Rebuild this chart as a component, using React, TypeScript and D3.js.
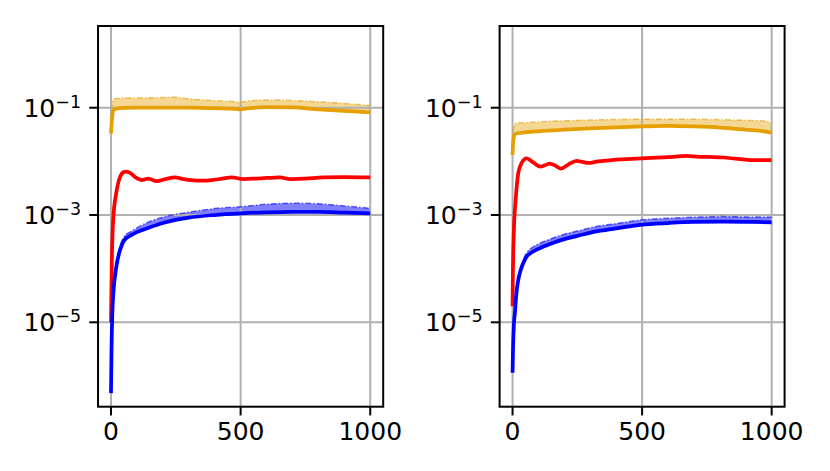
import React from "react";
import * as d3 from "d3";

// ---- data (values given as log10 exponents) ----
const xTicks = [0, 500, 1000];
const yTickExps = [-5, -3, -1];
const xDomain = [-50, 1050];
const yExpDomain = [-6.573, 0.523];

// Left panel
const leftOrangeX = [0, 5, 10, 20, 50, 100, 200, 250, 300, 400, 480, 500, 520, 600, 700, 800, 900, 1000];
const leftOrangeLow = [-1.477, -1.15, -1.05, -1.02, -1.005, -1.0, -1.0, -1.0, -1.0, -1.01, -1.02, -1.03, -1.015, -0.99, -0.995, -1.03, -1.06, -1.086];
const leftOrangeHigh = [-1.477, -0.9, -0.85, -0.83, -0.82, -0.82, -0.81, -0.805, -0.835, -0.87, -0.89, -0.9, -0.88, -0.855, -0.865, -0.89, -0.92, -0.96];

const leftRedX = [0, 1, 3, 9, 20, 35, 50, 60, 75, 95, 118, 144, 176, 210, 247, 280, 311, 350, 389, 430, 466, 511, 560, 600, 652, 691, 750, 819, 900, 1000];
const leftRedVal = [-5, -4.58, -3.9, -3.05, -2.6, -2.29, -2.2, -2.19, -2.22, -2.3, -2.35, -2.32, -2.37, -2.33, -2.3, -2.33, -2.35, -2.36, -2.35, -2.32, -2.3, -2.33, -2.32, -2.31, -2.3, -2.33, -2.32, -2.3, -2.295, -2.3];

const leftBlueX = [0, 2, 5, 10, 20, 35, 50, 80, 100, 150, 200, 300, 400, 500, 600, 700, 800, 900, 1000];
const leftBlueLow = [-6.32, -5.5, -4.85, -4.4, -3.98, -3.65, -3.48, -3.37, -3.32, -3.23, -3.15, -3.05, -3.0, -2.97, -2.95, -2.94, -2.94, -2.955, -2.97];
const leftBlueHigh = [-6.32, -5.5, -4.85, -4.38, -3.93, -3.58, -3.41, -3.3, -3.24, -3.12, -3.04, -2.95, -2.88, -2.845, -2.8, -2.78, -2.79, -2.83, -2.875];

// Right panel
const rightOrangeX = [0, 3, 8, 15, 50, 100, 200, 300, 400, 500, 600, 700, 800, 900, 970, 1000];
const rightOrangeLow = [-1.88, -1.6, -1.5, -1.48, -1.46, -1.44, -1.41, -1.385, -1.365, -1.35, -1.34, -1.35, -1.37, -1.41, -1.44, -1.466];
const rightOrangeHigh = [-1.88, -1.4, -1.31, -1.29, -1.28, -1.265, -1.245, -1.23, -1.22, -1.215, -1.215, -1.215, -1.225, -1.235, -1.25, -1.29];

const rightRedX = [0, 1, 5, 12, 22, 35, 54, 80, 108, 144, 165, 187, 215, 247, 270, 292, 330, 382, 440, 498, 556, 620, 672, 720, 780, 812, 860, 916, 1000];
const rightRedVal = [-4.7, -4.2, -3.3, -2.72, -2.22, -2.03, -1.943, -2.02, -2.1, -2.04, -2.08, -2.135, -2.06, -1.99, -2.01, -2.03, -2.0, -1.975, -1.96, -1.945, -1.93, -1.915, -1.9, -1.915, -1.92, -1.928, -1.95, -1.975, -1.975];

const rightBlueX = [0, 2, 5, 9, 15, 22, 30, 41, 55, 67, 100, 150, 200, 250, 318, 400, 500, 600, 700, 812, 900, 1000];
const rightBlueLow = [-5.94, -5.45, -5.05, -4.83, -4.45, -4.21, -4.05, -3.9, -3.77, -3.72, -3.63, -3.53, -3.45, -3.39, -3.31, -3.25, -3.18, -3.15, -3.13, -3.125, -3.128, -3.136];
const rightBlueHigh = [-5.94, -5.45, -5.05, -4.8, -4.4, -4.15, -4.0, -3.84, -3.7, -3.64, -3.54, -3.44, -3.36, -3.3, -3.22, -3.16, -3.09, -3.06, -3.04, -3.03, -3.035, -3.04];

const ORANGE = "#e69f00";
const RED = "#ff0000";
const BLUE = "#0000ff";

type Band = { x: number[]; low: number[]; high: number[]; color: string; alpha: number };
type Line = { x: number[]; v: number[]; color: string };

const panels = [
  {
    left: 98.04,
    right: 383.2,
    bands: [
      { x: leftOrangeX, low: leftOrangeLow, high: leftOrangeHigh, color: ORANGE, alpha: 0.42 },
      { x: leftBlueX, low: leftBlueLow, high: leftBlueHigh, color: BLUE, alpha: 0.5 },
    ] as Band[],
    lines: [
      { x: leftOrangeX, v: leftOrangeLow, color: ORANGE },
      { x: leftRedX, v: leftRedVal, color: RED },
      { x: leftBlueX, v: leftBlueLow, color: BLUE },
    ] as Line[],
  },
  {
    left: 499.6,
    right: 784.6,
    bands: [
      { x: rightOrangeX, low: rightOrangeLow, high: rightOrangeHigh, color: ORANGE, alpha: 0.42 },
      { x: rightBlueX, low: rightBlueLow, high: rightBlueHigh, color: BLUE, alpha: 0.5 },
    ] as Band[],
    lines: [
      { x: rightOrangeX, v: rightOrangeLow, color: ORANGE },
      { x: rightRedX, v: rightRedVal, color: RED },
      { x: rightBlueX, v: rightBlueLow, color: BLUE },
    ] as Line[],
  },
];

const TOP = 26;
const BOTTOM = 406.7;
const FONT = "DejaVu Sans, sans-serif";

function Panel({ p, idx }: { p: (typeof panels)[number]; idx: number }) {
  const xs = d3.scaleLinear().domain(xDomain).range([p.left, p.right]);
  const ys = d3
    .scaleLog()
    .domain([Math.pow(10, yExpDomain[0]), Math.pow(10, yExpDomain[1])])
    .range([BOTTOM, TOP]);
  const clipId = `clip${idx}`;

  const areaPath = (b: Band) => {
    const pts = b.x.map((x, i) => ({ x, lo: Math.pow(10, b.low[i]), hi: Math.pow(10, b.high[i]) }));
    return (
      d3
        .area<{ x: number; lo: number; hi: number }>()
        .x((d) => xs(d.x))
        .y0((d) => ys(d.lo))
        .y1((d) => ys(d.hi))
        .curve(d3.curveMonotoneX)(pts) || ""
    );
  };
  const linePath = (x: number[], v: number[]) => {
    const pts = x.map((xx, i) => [xx, Math.pow(10, v[i])] as [number, number]);
    return (
      d3
        .line<[number, number]>()
        .x((d) => xs(d[0]))
        .y((d) => ys(d[1]))
        .curve(d3.curveMonotoneX)(pts) || ""
    );
  };

  return (
    <g>
      <defs>
        <clipPath id={clipId}>
          <rect x={p.left} y={TOP} width={p.right - p.left} height={BOTTOM - TOP} />
        </clipPath>
      </defs>
      <g clipPath={`url(#${clipId})`}>
        {p.bands.map((b, i) => (
          <path key={"b" + i} d={areaPath(b)} fill={b.color} fillOpacity={b.alpha} stroke="none" />
        ))}
        {xTicks.map((t) => (
          <line key={"gx" + t} x1={xs(t)} x2={xs(t)} y1={TOP} y2={BOTTOM} stroke="#b0b0b0" strokeWidth={2} />
        ))}
        {yTickExps.map((e) => (
          <line
            key={"gy" + e}
            x1={p.left}
            x2={p.right}
            y1={ys(Math.pow(10, e))}
            y2={ys(Math.pow(10, e))}
            stroke="#b0b0b0"
            strokeWidth={2}
          />
        ))}
        {p.bands.map((b, i) => (
          <path
            key={"be" + i}
            d={linePath(b.x, b.high)}
            fill="none"
            stroke={b.color}
            strokeOpacity={0.6}
            strokeWidth={1.5}
            strokeDasharray="6 2 1.5 2"
          />
        ))}
        {p.lines.map((l, i) => (
          <path
            key={"l" + i}
            d={linePath(l.x, l.v)}
            fill="none"
            stroke={l.color}
            strokeWidth={3.75}
            strokeLinejoin="round"
          />
        ))}
      </g>
      <rect
        x={p.left}
        y={TOP}
        width={p.right - p.left}
        height={BOTTOM - TOP}
        fill="none"
        stroke="#000"
        strokeWidth={2}
      />
      {xTicks.map((t) => (
        <g key={"tx" + t}>
          <line x1={xs(t)} x2={xs(t)} y1={BOTTOM} y2={BOTTOM + 8.75} stroke="#000" strokeWidth={2} />
          <text x={xs(t)} y={BOTTOM + 33.3} textAnchor="middle" fontFamily={FONT} fontSize={25} fill="#000">
            {String(t)}
          </text>
        </g>
      ))}
      {yTickExps.map((e) => {
        const y = ys(Math.pow(10, e));
        return (
          <g key={"ty" + e}>
            <line x1={p.left - 8.75} x2={p.left} y1={y} y2={y} stroke="#000" strokeWidth={2} />
            <text x={p.left - 17} y={y + 9.1} textAnchor="end" fontFamily={FONT} fontSize={25} fill="#000">
              <tspan>10</tspan>
              <tspan dy={-9} fontSize={17.5}>
                {"\u2212" + String(-e)}
              </tspan>
            </text>
          </g>
        );
      })}
    </g>
  );
}

export default function App() {
  return (
    <svg
      width={830}
      height={471}
      viewBox="0 0 830 471"
      style={{ position: "absolute", left: 0, top: 0, background: "#fff" }}
    >
      <rect x={0} y={0} width={830} height={471} fill="#fff" />
      {panels.map((p, i) => (
        <Panel key={i} p={p} idx={i} />
      ))}
    </svg>
  );
}
